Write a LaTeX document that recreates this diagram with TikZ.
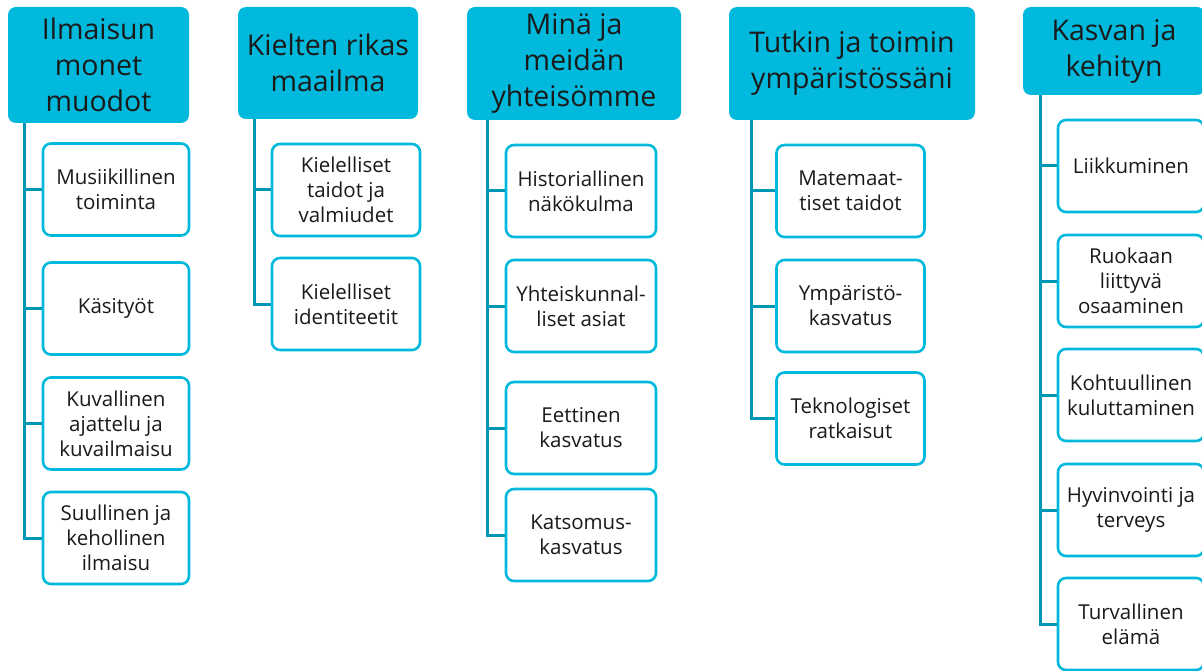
\documentclass[tikz,border=0pt]{standalone}
\usepackage{fontspec}
\setmainfont{Open Sans}
\usepackage{tikz}
\usetikzlibrary{positioning}
\definecolor{cyan}{RGB}{0, 185, 220}
\definecolor{teal}{RGB}{0, 150, 181}
\definecolor{ink}{RGB}{26, 26, 26}
\tikzstyle{topic} = [rectangle, rounded corners=8pt, draw=none, fill=cyan, text=ink, align=center, font=\fontsize{28.5}{36}\selectfont, inner sep=0pt]
\tikzstyle{subtopic} = [rectangle, rounded corners=8pt, draw=cyan, line width=2.6pt, fill=white, text=ink, align=center, font=\fontsize{20.5}{25}\selectfont, inner sep=0pt, minimum height=92pt]
\tikzstyle{tline} = [draw=teal, line width=3pt]

\begin{document}
\begin{tikzpicture}[x=1pt,y=-1pt]
\useasboundingbox (0,0) rectangle (1202,671);

% topics =============================
\node[topic, minimum width=181pt, minimum height=116pt] (ilm) at (98.5,65) {Ilmaisun\\monet\\muodot};
\node[topic, minimum width=180pt, minimum height=112pt] (kie) at (328,63) {Kielten rikas\\maailma};
\node[topic, minimum width=214pt, minimum height=113pt] (min) at (574,63.5) {Minä ja\\meidän\\yhteisömme};
\node[topic, minimum width=246pt, minimum height=113pt] (tut) at (852,63.5) {Tutkin ja toimin\\ympäristössäni};
\node[topic, minimum width=182pt, minimum height=88pt] (kas) at (1114,51) {Kasvan ja\\kehityn};

% subtopics
\node[subtopic, minimum width=146pt] (mus) at (116,189.5) {Musiikillinen\\toiminta};
\node[subtopic, minimum width=146pt] (kas1) at (116,308.5) {Käsityöt};
\node[subtopic, minimum width=146pt] (kuv) at (116,423.5) {Kuvallinen\\ajattelu ja\\kuvailmaisu};
\node[subtopic, minimum width=146pt] (suu) at (116,538) {Suullinen ja\\kehollinen\\ilmaisu};

\node[subtopic, minimum width=148pt] (tai) at (346,190) {Kielelliset\\taidot ja\\valmiudet};
\node[subtopic, minimum width=148pt] (ide) at (346,304) {Kielelliset\\identiteetit};

\node[subtopic, minimum width=150pt] (his) at (581,191) {Historiallinen\\näkökulma};
\node[subtopic, minimum width=150pt] (yht) at (581,306) {Yhteiskunnal-\\liset asiat};
\node[subtopic, minimum width=150pt] (eet) at (581,428) {Eettinen\\kasvatus};
\node[subtopic, minimum width=150pt] (kat) at (581,535) {Katsomus-\\kasvatus};

\node[subtopic, minimum width=148pt] (mat) at (850.5,191) {Matemaat-\\tiset taidot};
\node[subtopic, minimum width=148pt] (ymp) at (850.5,306) {Ympäristö-\\kasvatus};
\node[subtopic, minimum width=148pt] (tek) at (850.5,418.5) {Teknologiset\\ratkaisut};

\node[subtopic, minimum width=146pt] (lii) at (1131,166) {Liikkuminen};
\node[subtopic, minimum width=146pt] (ruo) at (1131,281) {Ruokaan\\liittyvä\\osaaminen};
\node[subtopic, minimum width=146pt] (koh) at (1131,395) {Kohtuullinen\\kuluttaminen};
\node[subtopic, minimum width=146pt] (hyv) at (1131,510) {Hyvinvointi ja\\terveys};
\node[subtopic, minimum width=146pt] (tur) at (1131,624) {Turvallinen\\elämä};

% edges
\foreach \c in {mus,kas1,kuv,suu} \draw[tline] ([xshift=17pt]ilm.south west) |- (\c.west);
\foreach \c in {tai,ide} \draw[tline] ([xshift=17pt]kie.south west) |- (\c.west);
\foreach \c in {his,yht,eet,kat} \draw[tline] ([xshift=21pt]min.south west) |- (\c.west);
\foreach \c in {mat,ymp,tek} \draw[tline] ([xshift=23pt]tut.south west) |- (\c.west);
\foreach \c in {lii,ruo,koh,hyv,tur} \draw[tline] ([xshift=18pt]kas.south west) |- (\c.west);

\end{tikzpicture}
\end{document}
